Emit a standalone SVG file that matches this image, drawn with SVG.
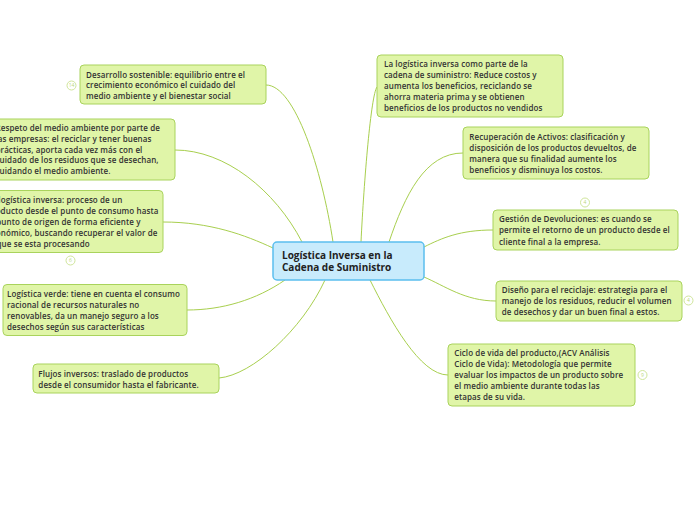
<svg xmlns="http://www.w3.org/2000/svg" width="696" height="520" viewBox="0 0 696 520">
<style>
.bg{fill:#ffffff}
.node rect{fill:#e0f5a8;stroke:#a9d35c;stroke-width:1}
.node text{font-family:"Open Sans","Noto Sans",sans-serif;font-size:8px;font-weight:600;letter-spacing:0.1px;fill:#333333}
.center rect{fill:#c8ebfc;stroke:#5bbfee;stroke-width:1.5}
.center text{font-family:"Open Sans","Noto Sans",sans-serif;font-size:10px;font-weight:700;fill:#222222}
.links path{fill:none;stroke:#a8cf4e;stroke-width:1}
.badge circle{fill:#ffffff;stroke:#cfe59a;stroke-width:1}
.badge text{font-family:"Open Sans","Noto Sans",sans-serif;font-size:5px;fill:#b9d77a;text-anchor:middle}
</style>
<rect class="bg" x="0" y="0" width="696" height="520"/>
<g id="connectors" class="links">
<path d="M266,85 C295,85 322,170 333,242"/>
<path d="M175,150 C225,150 275,190 302,242"/>
<path d="M163,222 C210,222 245,235 273,248"/>
<path d="M187,310 C222,310 256,300 285,280"/>
<path d="M219,378 C252,375 302,330 325,280"/>
<path d="M377,87 C371,95 364,180 361,242"/>
<path d="M463,153 C425,153 405,195 389,242"/>
<path d="M493,230 C460,230 442,238 424,247"/>
<path d="M496,301 C465,301 445,286 424,277"/>
<path d="M448,375 C420,375 390,320 370,280"/>
</g>
<g id="center" class="center">
<rect x="273" y="242" width="151" height="38" rx="4"/>
<text x="282" y="258.5">Logística Inversa en la</text>
<text x="282" y="271">Cadena de Suministro</text>
</g>
<g id="desarrollo" class="node">
<rect x="80" y="65" width="186" height="39" rx="4"/>
<text x="86" y="77.7">Desarrollo sostenible: equilibrio entre el</text>
<text x="86" y="88.3">crecimiento económico el cuidado del</text>
<text x="86" y="98.9">medio ambiente y el bienestar social</text>
</g>
<g id="respeto" class="node">
<rect x="-10" y="119" width="185" height="61" rx="4"/>
<text x="-4.5" y="131.3">Respeto del medio ambiente por parte de</text>
<text x="-4.5" y="142">las empresas: el reciclar y tener buenas</text>
<text x="-4.5" y="152.7">prácticas, aporta cada vez más con el</text>
<text x="-4.5" y="163.4">cuidado de los residuos que se desechan,</text>
<text x="-4.5" y="174.1">cuidando el medio ambiente.</text>
</g>
<g id="logistica-inversa" class="node">
<rect x="-20" y="190.5" width="183" height="62" rx="4"/>
<text x="-13" y="203">La logística inversa: proceso de un</text>
<text x="-13" y="214">producto desde el punto de consumo hasta</text>
<text x="-13" y="225">el punto de origen de forma eficiente y</text>
<text x="-13" y="236">económico, buscando recuperar el valor de</text>
<text x="-13" y="247">lo que se esta procesando</text>
</g>
<g id="logistica-verde" class="node">
<rect x="3" y="284.5" width="184" height="51" rx="4"/>
<text x="7" y="297.3">Logística verde: tiene en cuenta el consumo</text>
<text x="7" y="308">racional de recursos naturales no</text>
<text x="7" y="319.3">renovables, da un manejo seguro a los</text>
<text x="7" y="330">desechos según sus características</text>
</g>
<g id="flujos" class="node">
<rect x="33" y="364" width="186" height="29" rx="4"/>
<text x="38.3" y="377.3">Flujos inversos: traslado de productos</text>
<text x="38.3" y="388">desde el consumidor hasta el fabricante.</text>
</g>
<g id="cadena" class="node">
<rect x="377" y="55" width="186" height="62" rx="4"/>
<text x="384" y="67">La logística inversa como parte de la</text>
<text x="384" y="78">cadena de suministro: Reduce costos y</text>
<text x="384" y="89">aumenta los beneficios, reciclando se</text>
<text x="384" y="100">ahorra materia prima y se obtienen</text>
<text x="384" y="110.8">beneficios de los productos no vendidos</text>
</g>
<g id="recuperacion" class="node">
<rect x="463" y="127" width="186" height="52" rx="4"/>
<text x="469.3" y="139.7">Recuperación de Activos: clasificación y</text>
<text x="469.3" y="150.7">disposición de los productos devueltos, de</text>
<text x="469.3" y="161.7">manera que su finalidad aumente los</text>
<text x="469.3" y="172.7">beneficios y disminuya los costos.</text>
</g>
<g id="gestion" class="node">
<rect x="493" y="210" width="185" height="40" rx="4"/>
<text x="499" y="222">Gestión de Devoluciones: es cuando se</text>
<text x="499" y="233">permite el retorno de un producto desde el</text>
<text x="499" y="244.5">cliente final a la empresa.</text>
</g>
<g id="diseno" class="node">
<rect x="496" y="281" width="186" height="40" rx="4"/>
<text x="501.7" y="293">Diseño para el reciclaje: estrategia para el</text>
<text x="501.7" y="304">manejo de los residuos, reducir el volumen</text>
<text x="501.7" y="315">de desechos y dar un buen final a estos.</text>
</g>
<g id="ciclo" class="node">
<rect x="448" y="344" width="187" height="62" rx="4"/>
<text x="454.3" y="355.5">Ciclo de vida del producto,(ACV Análisis</text>
<text x="454.3" y="366.5">Ciclo de Vida): Metodología que permite</text>
<text x="454.3" y="377.8">evaluar los impactos de un producto sobre</text>
<text x="454.3" y="388.8">el medio ambiente durante todas las</text>
<text x="454.3" y="399.8">etapas de su vida.</text>
</g>
<g id="badges" class="badge">
<circle cx="71.5" cy="85.5" r="4.5"/><text x="71.5" y="87.3">14</text>
<circle cx="70.5" cy="260.5" r="4.5"/><text x="70.5" y="262.3">6</text>
<circle cx="585" cy="202.5" r="4.5"/><text x="585" y="204.3">4</text>
<circle cx="688.5" cy="300.5" r="4.5"/><text x="688.5" y="302.3">4</text>
<circle cx="642.5" cy="375" r="4.5"/><text x="642.5" y="376.8">9</text>
</g>
</svg>
